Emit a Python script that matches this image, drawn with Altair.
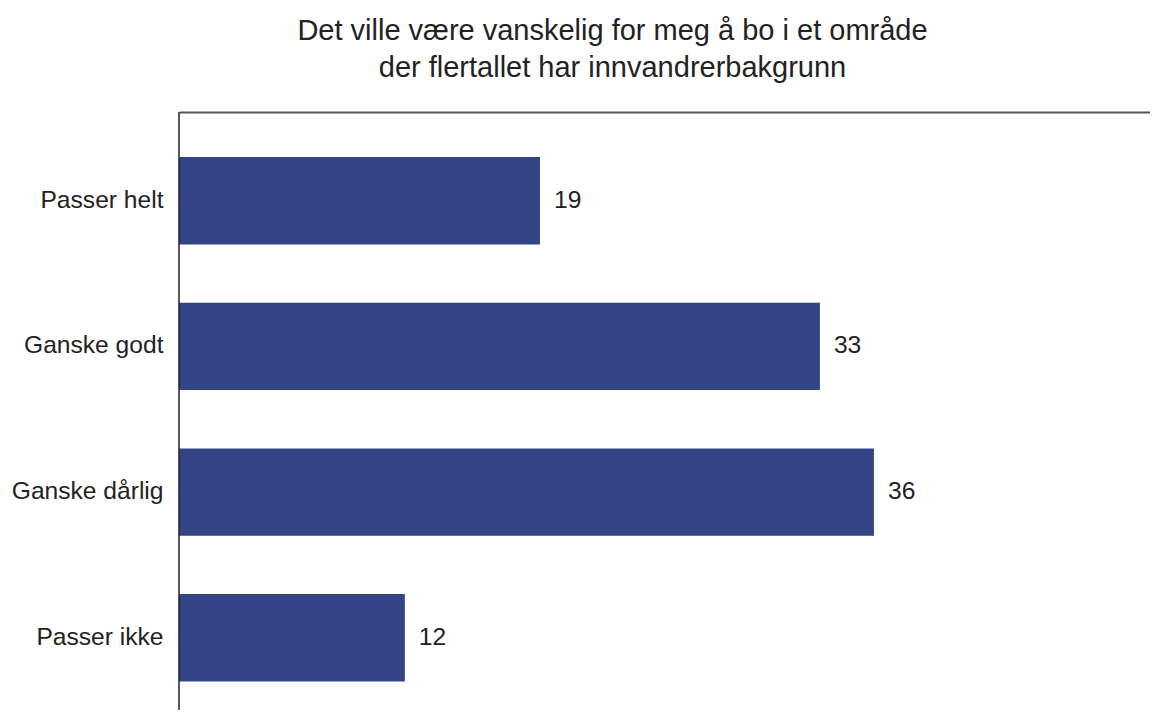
import altair as alt
import pandas as pd

categories = ["Passer helt", "Ganske godt", "Ganske dårlig", "Passer ikke"]
values = [18.7, 33.2, 36.0, 11.7]
title_lines = ["Det ville være vanskelig for meg å bo i et område",
               "der flertallet har innvandrerbakgrunn"]

df = pd.DataFrame({"kategori": categories, "verdi": values})

FONT = "Liberation Sans"
PLOT_H = 598

y_enc = alt.Y("kategori:N", sort=categories,
              scale=alt.Scale(range=[45, 569.5], paddingInner=0.4, paddingOuter=0),
              axis=alt.Axis(title=None, ticks=False, labelFontSize=24.6, labelFont=FONT,
                            labelColor="#222222", labelPadding=16, domain=False,
                            grid=False))
x_enc = alt.X("verdi:Q", scale=alt.Scale(domain=[0, 50.3], nice=False),
              axis=alt.Axis(orient="top", title=None, labels=False, ticks=False, grid=False,
                            domainColor="#555555", domainWidth=2))

bars = alt.Chart(df).mark_bar(color="#344587").encode(x=x_enc, y=y_enc)
texts = alt.Chart(df).mark_text(align="left", baseline="middle", dx=14, fontSize=24.6,
                                font=FONT, color="#222222").encode(
    x="verdi:Q", y=alt.Y("kategori:N", sort=categories),
    text=alt.Text("verdi:Q", format=".0f"))
left_line = alt.Chart(pd.DataFrame({"a": [0]})).mark_rule(
    color="#222222", strokeWidth=1.5).encode(
    x=alt.value(0), y=alt.value(0), y2=alt.value(PLOT_H))

chart = (bars + texts + left_line).properties(
    width=971, height=PLOT_H,
    title=alt.TitleParams(title_lines, fontSize=29, font=FONT, fontWeight="normal",
                          color="#222222", anchor="middle", dx=-52, offset=28,
                          lineHeight=37.5),
    autosize=alt.AutoSizeParams(type="none"),
    padding={"left": 171, "top": 104, "right": 0, "bottom": 0},
).configure_view(stroke=None)

chart.save("out.html", embed_options={"renderer": "svg", "actions": False})
